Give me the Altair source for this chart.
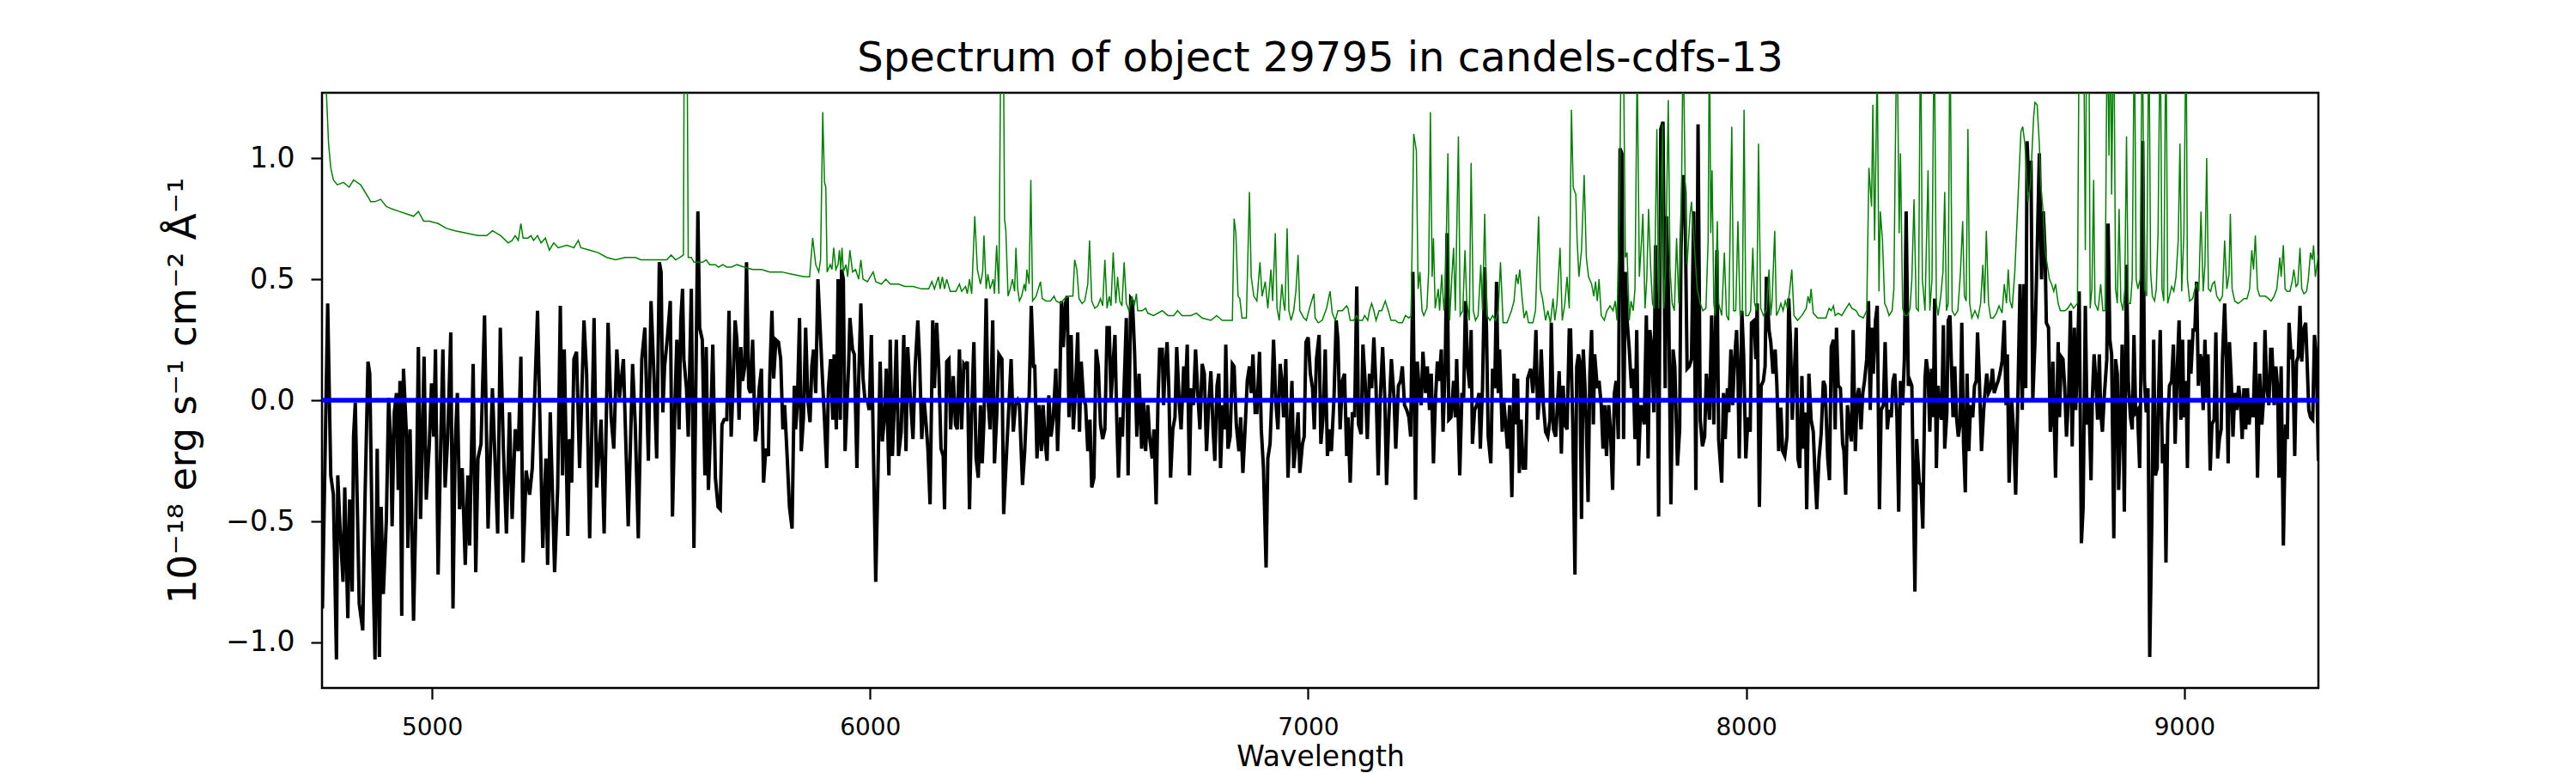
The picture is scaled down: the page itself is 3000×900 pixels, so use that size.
import altair as alt
import pandas as pd

# (wavelength [A], flux [1e-18 erg/s/cm2/A])
flux_samples = [
(4750,-0.86),(4762,0.40),(4769,-0.31),(4775,-0.39),(4782,-1.07),(4785,-0.31),(4790,-0.52),(4797,-0.75),(4801,-0.36),(4808,-0.90),
(4812,-0.41),(4818,-0.79),(4821,-0.15),(4825,-0.01),(4834,-0.84),(4842,-0.95),(4847,-0.42),(4854,0.16),(4858,0.11),(4863,-0.49),
(4870,-1.07),(4875,-0.20),(4880,-1.06),(4884,-0.44),(4889,-0.80),(4896,-0.49),(4901,0.01),(4906,-0.18),(4909,-0.52),(4914,-0.05),
(4919,0.03),(4923,-0.37),(4927,0.08),(4931,-0.89),(4935,0.13),(4942,-0.15),(4945,-0.61),(4950,-0.12),(4958,-0.91),(4965,-0.31),
(4969,0.22),(4974,-0.49),(4982,0.18),(4987,-0.41),(4994,-0.18),(4999,0.07),(5004,-0.15),(5008,0.21),(5014,-0.72),(5020,-0.18),
(5025,0.21),(5030,-0.36),(5036,-0.15),(5043,0.28),(5048,-0.86),(5053,-0.18),(5058,0.03),(5063,-0.45),(5069,-0.28),(5076,-0.68),
(5082,-0.31),(5086,-0.60),(5094,0.15),(5100,-0.71),(5105,-0.24),(5112,-0.18),(5120,0.35),(5128,-0.53),(5138,0.05),(5143,-0.20),
(5150,-0.55),(5156,0.30),(5163,-0.20),(5170,-0.55),(5177,-0.05),(5183,-0.49),(5190,-0.12),(5197,-0.21),(5203,0.18),(5208,-0.67),
(5215,-0.29),(5223,-0.39),(5229,-0.28),(5241,0.37),(5246,-0.04),(5253,-0.61),(5260,-0.24),(5264,-0.68),(5270,-0.05),(5280,-0.71),
(5287,-0.36),(5293,0.39),(5298,-0.31),(5302,0.21),(5310,-0.56),(5314,-0.16),(5319,-0.34),(5324,0.17),(5330,0.20),(5337,-0.28),
(5347,0.33),(5353,0.11),(5360,-0.57),(5370,0.34),(5376,-0.36),(5386,-0.08),(5393,-0.55),(5402,0.32),(5409,-0.07),(5415,-0.20),
(5422,0.21),(5428,0.01),(5437,0.17),(5448,-0.52),(5458,0.15),(5464,-0.10),(5471,-0.57),(5479,0.17),(5486,0.30),(5494,-0.25),
(5500,0.41),(5507,0.09),(5513,-0.24),(5519,0.57),
(5523,0.53),(5527,-0.05),(5531,0.14),(5538,0.27),(5544,0.41),(5549,-0.48),(5555,0.01),(5559,0.25),(5564,-0.12),(5568,0.33),
(5572,0.46),(5575,0.17),(5581,0.05),(5585,-0.15),(5592,0.46),(5598,-0.61),(5603,0.17),(5607,0.78),(5611,0.30),(5617,0.25),
(5623,-0.31),(5626,0.22),(5631,-0.37),(5636,-0.12),(5641,0.23),(5647,-0.32),(5653,-0.44),(5658,-0.45),(5662,-0.10),(5667,-0.08),
(5673,-0.08),(5678,0.37),(5683,-0.15),(5687,0.05),(5692,0.33),(5696,0.25),(5701,-0.08),(5705,0.22),(5709,0.08),(5714,0.14),
(5718,0.57),(5723,0.05),(5727,0.03),(5732,0.25),(5738,-0.17),(5742,-0.12),(5747,0.05),(5752,0.13),(5757,-0.34),(5762,-0.20),
(5768,-0.23),(5771,0.09),(5776,0.37),(5780,0.09),(5785,0.25),(5791,0.24),(5796,0.17),(5801,-0.12),(5805,-0.02),(5811,-0.24),
(5816,-0.44),(5822,-0.53),(5827,0.06),(5830,-0.12),(5834,-0.02),(5839,0.34),(5843,-0.21),(5848,-0.07),(5853,0.30),(5858,0.00),
(5863,-0.09),(5867,0.14),(5871,0.21),(5876,0.03),(5881,0.50),(5886,0.30),(5890,0.14),(5896,-0.08),(5901,-0.28),(5905,0.05),
(5910,0.17),(5915,-0.08),(5918,0.19),(5923,-0.12),(5927,0.50),(5932,-0.08),(5935,0.54),(5939,0.50),(5943,-0.21),(5948,0.01),
(5951,0.14),(5954,0.34),(5960,0.21),(5964,0.19),(5970,-0.28),(5974,0.08),(5979,0.40),(5984,0.09),(5988,0.01),(5994,0.00),
(5998,-0.04),(6003,0.27),(6008,-0.24),(6013,-0.75),(6018,-0.31),(6023,0.16),(6028,-0.17),(6033,-0.07),(6037,0.13),(6043,-0.31),
(6046,0.25),(6051,-0.23),(6056,0.01),(6060,0.25),(6065,-0.23),(6071,-0.13),(6077,0.27),(6082,-0.21),(6086,0.22),(6092,0.01),
(6098,-0.16),(6103,0.14),(6109,0.33),(6113,0.17),(6118,-0.16),(6123,0.01),(6128,-0.10),(6132,-0.20),(6137,-0.43),(6143,0.33),
(6147,0.05),(6152,0.32),(6157,0.13),(6162,-0.20),(6167,-0.23),(6170,-0.45),(6175,0.16),(6180,0.17),(6184,-0.12),(6190,0.10),
(6195,-0.10),(6199,-0.12),(6204,0.21),(6209,-0.12),(6214,0.15),(6218,0.14),(6222,0.16),(6227,-0.45),(6232,-0.04),(6237,0.24),
(6242,-0.24),(6247,-0.32),(6252,-0.02),(6256,-0.26),(6260,-0.08),(6265,0.42),(6269,0.01),(6274,-0.12),(6280,0.33),(6284,-0.26),
(6289,-0.07),(6294,0.19),(6301,0.17),(6305,-0.47),
(6312,-0.20),(6317,-0.02),(6322,0.17),(6327,-0.13),(6332,-0.02),(6337,0.00),(6341,-0.02),(6348,-0.35),(6353,-0.21),(6358,0.00),
(6363,0.01),(6368,0.39),(6373,0.14),(6376,0.14),(6381,-0.24),(6386,-0.02),(6391,-0.21),(6395,-0.02),(6400,-0.18),(6404,-0.25),
(6408,0.02),(6413,-0.15),(6418,-0.08),(6424,0.13),(6428,-0.21),(6433,0.05),(6437,0.41),(6441,0.22),(6446,0.40),(6450,0.43),
(6454,-0.07),(6459,0.27),(6464,-0.12),(6469,0.05),(6474,0.28),(6478,-0.13),(6482,0.16),(6487,0.01),(6492,-0.02),(6497,-0.21),
(6502,-0.08),(6506,-0.36),(6511,-0.32),(6516,0.21),(6521,0.14),(6526,-0.10),(6531,-0.16),(6536,-0.12),(6541,0.30),(6546,0.30),
(6550,0.00),(6556,0.19),(6559,0.27),(6563,-0.07),(6567,-0.32),(6572,-0.07),(6576,-0.15),(6582,0.17),(6585,0.34),(6589,-0.31),
(6595,0.42),(6599,0.41),(6604,0.19),(6609,-0.15),(6614,0.11),(6620,-0.20),(6624,0.00),(6629,-0.21),(6634,-0.02),(6638,-0.15),
(6644,-0.24),(6648,-0.12),(6653,-0.43),(6657,-0.02),(6661,0.21),(6667,0.21),(6670,-0.02),(6673,0.11),(6678,0.24),(6682,0.05),
(6686,-0.32),(6691,-0.12),(6696,-0.07),(6700,0.22),(6706,-0.02),(6710,-0.12),(6716,0.14),(6719,0.00),(6724,0.23),(6729,-0.31),
(6733,0.05),(6738,-0.02),(6743,0.21),(6748,0.03),(6753,-0.12),(6758,0.15),(6763,0.11),(6768,-0.21),(6773,-0.02),(6778,0.12),
(6783,-0.12),(6787,-0.25),(6792,0.06),(6796,0.11),(6800,-0.28),(6805,-0.02),(6809,-0.12),(6812,0.23),(6817,-0.20),(6822,-0.15),
(6827,0.15),(6831,0.14),(6836,-0.10),(6842,-0.21),(6846,-0.07),(6851,-0.30),(6856,-0.12),(6861,0.08),(6866,0.14),(6870,0.03),
(6874,0.19),(6879,-0.05),(6883,-0.05),(6889,0.20),(6893,-0.12),(6898,-0.28),(6904,-0.69),(6908,-0.24),(6913,-0.18),(6917,0.01),
(6921,0.25),(6926,0.00),(6931,-0.12),(6936,0.15),(6940,0.08),(6944,-0.07),(6949,0.17),(6954,-0.32),(6959,-0.10),(6963,0.08),
(6967,-0.28),(6972,-0.18),(6977,-0.05),(6981,-0.30),(6987,-0.18),(6991,-0.15),(6995,0.24),(7000,0.26),(7005,0.11),(7010,0.05),
(7014,-0.12),(7019,0.17),(7025,0.27),(7029,-0.18),(7034,-0.07),(7039,0.21),(7044,-0.23),(7049,-0.12),(7053,-0.21),(7059,0.01),
(7064,0.33),(7068,0.25),(7073,-0.12),(7078,0.08),(7083,0.11),(7088,-0.23),
(7091,-0.07),(7096,-0.34),(7101,-0.05),(7106,-0.07),(7111,0.47),(7115,-0.10),(7121,-0.14),(7125,0.23),(7130,0.08),(7135,-0.16),
(7140,0.11),(7145,0.05),(7150,0.26),(7155,0.05),(7160,-0.31),(7164,-0.02),(7170,0.22),(7175,0.01),(7179,-0.35),(7184,-0.08),
(7190,0.17),(7196,0.01),(7200,-0.20),(7206,0.06),(7211,0.08),(7215,0.14),(7220,-0.02),(7225,-0.04),(7230,-0.07),(7234,-0.15),
(7239,0.53),(7245,-0.41),(7249,0.16),(7253,0.06),(7258,-0.02),(7262,0.20),(7268,0.03),(7272,0.14),(7277,-0.04),(7281,0.11),
(7286,-0.26),(7290,-0.02),(7295,0.16),(7299,0.08),(7304,0.21),(7308,-0.13),(7313,0.16),(7317,0.69),(7321,-0.08),(7326,-0.07),
(7332,0.08),(7336,-0.07),(7339,0.17),(7346,-0.31),(7351,0.03),(7355,0.01),(7359,0.41),(7364,0.14),(7369,0.05),(7372,0.29),
(7375,-0.18),(7380,-0.04),(7385,-0.02),(7390,0.03),(7393,-0.20),(7398,0.05),(7403,0.55),(7407,0.30),(7411,-0.15),(7417,-0.26),
(7421,0.13),(7426,0.05),(7430,0.49),(7434,0.03),(7437,0.21),(7443,-0.13),(7446,0.01),(7451,-0.10),(7455,-0.20),(7460,-0.02),
(7465,-0.40),(7470,0.11),(7475,-0.10),(7478,0.09),(7482,-0.30),(7486,-0.08),(7491,-0.28),(7496,-0.28),(7501,0.09),(7508,0.13),
(7513,0.03),(7517,0.14),(7520,0.29),(7524,-0.08),(7529,0.03),(7532,0.21),(7537,-0.02),(7542,-0.13),(7547,-0.15),(7552,-0.08),
(7555,0.32),(7560,-0.12),(7565,-0.15),(7569,-0.02),(7573,0.12),(7578,-0.22),(7582,0.06),(7586,-0.10),(7591,-0.12),(7596,0.29),
(7599,0.29),(7604,-0.10),(7609,-0.72),(7613,0.14),(7617,0.19),(7620,0.16),(7624,-0.49),(7628,0.21),(7632,0.05),(7635,-0.10),
(7639,-0.42),(7643,0.11),(7647,0.29),(7651,-0.10),(7654,0.19),(7660,0.05),(7664,0.08),(7669,-0.02),(7673,-0.20),(7677,-0.02),
(7681,-0.23),(7686,-0.02),(7690,-0.12),(7695,-0.37),(7699,0.03),(7703,0.08),(7708,-0.16),(7712,1.04),(7716,1.02),(7720,-0.16),
(7724,0.53),(7728,0.33),(7733,0.21),(7738,0.05),(7742,0.13),(7746,-0.16),(7750,0.29),(7754,-0.27),(7759,-0.02),(7763,-0.05),
(7767,-0.10),(7772,0.35),(7776,-0.24),(7780,0.29),(7785,0.21),(7789,-0.05),(7793,0.64),(7797,0.17),(7800,-0.48),(7805,1.12),
(7810,1.15),(7815,0.05),(7818,0.76),(7823,0.40),(7828,-0.43),(7833,0.21),(7837,0.14),(7843,-0.27),(7848,-0.12),(7851,0.62),
(7856,0.93),(7860,0.86),(7865,0.13),(7870,0.14),
(7875,0.17),(7880,0.78),(7885,-0.37),(7890,1.14),(7895,-0.08),(7900,-0.19),(7905,-0.15),(7909,0.11),(7913,0.01),(7916,-0.08),
(7921,0.35),(7926,-0.10),(7933,0.62),(7937,-0.16),(7944,-0.34),(7948,0.03),(7952,-0.16),(7957,0.05),(7960,-0.05),(7965,0.21),
(7969,-0.02),(7973,0.16),(7978,0.29),(7981,0.11),(7984,-0.24),(7990,0.37),(7994,0.19),(7999,-0.24),(8004,-0.07),(8009,-0.13),
(8012,0.32),(8018,0.33),(8022,0.17),(8025,0.40),(8030,-0.44),(8034,0.06),(8039,0.08),(8043,0.14),(8046,0.51),(8052,0.29),
(8056,0.24),(8061,0.11),(8066,0.21),(8070,0.06),(8074,-0.21),(8079,-0.03),(8083,-0.21),(8088,-0.23),(8093,-0.15),(8097,0.42),
(8101,0.25),(8105,-0.08),(8109,0.08),(8114,0.30),(8118,-0.24),(8122,-0.28),(8127,0.10),(8131,-0.20),(8135,-0.05),(8138,-0.45),
(8143,0.11),(8148,-0.08),(8153,-0.13),(8157,-0.31),(8161,-0.45),(8166,-0.24),(8171,-0.14),(8176,0.08),(8180,0.06),(8186,-0.24),
(8190,-0.33),(8194,0.22),(8199,0.25),(8203,-0.12),(8206,0.30),(8210,0.06),(8215,0.05),(8220,-0.18),(8223,-0.21),(8227,-0.39),
(8231,-0.02),(8236,-0.12),(8240,-0.17),(8244,0.29),(8249,-0.21),(8253,0.01),(8257,0.05),(8262,-0.12),(8266,0.03),(8270,0.08),
(8275,0.17),(8279,0.41),(8283,-0.04),(8287,0.30),(8290,0.11),(8295,0.33),(8299,0.39),(8304,-0.45),(8308,-0.04),(8313,-0.02),
(8317,0.24),(8322,-0.12),(8326,-0.04),(8331,-0.07),(8335,0.08),(8339,0.11),(8344,-0.07),(8348,-0.46),(8352,0.08),(8357,-0.02),
(8361,0.17),(8365,0.78),(8370,0.06),(8374,0.08),(8378,0.06),(8385,-0.79),(8389,-0.16),(8395,-0.34),(8399,-0.35),(8403,-0.53),
(8408,0.09),(8411,0.17),(8415,0.11),(8419,-0.13),(8423,0.13),(8427,-0.07),(8430,0.42),(8434,-0.28),(8438,0.06),(8442,-0.05),
(8446,-0.08),(8450,0.31),(8453,-0.20),(8458,-0.05),(8461,0.33),(8465,0.35),(8468,0.17),(8472,-0.07),(8476,0.14),(8480,-0.07),
(8484,-0.15),(8488,-0.10),(8492,0.32),(8496,-0.18),(8500,-0.38),(8504,0.11),(8508,-0.21),(8512,-0.02),(8517,-0.07),(8521,0.06),
(8525,0.08),(8528,0.28),(8532,0.09),(8537,-0.21),(8542,-0.04),(8545,0.03),(8549,0.11),(8553,0.03),(8558,0.05),(8562,0.13),
(8566,0.03),(8571,0.06),(8575,0.08),(8579,0.11),(8584,0.16),(8589,0.33),(8593,-0.02),(8596,0.19),(8600,-0.34),(8606,0.00),
(8610,-0.12),(8615,-0.39),(8620,0.01),(8625,0.48),(8630,-0.04),(8634,0.48),(8638,0.05),(8641,1.07),(8646,0.86),(8650,0.99),
(8654,0.00),
(8659,0.24),(8664,0.61),(8669,1.02),(8674,0.50),(8678,0.78),(8682,0.62),(8685,0.32),(8690,0.30),(8694,-0.13),(8697,-0.07),
(8700,0.16),(8706,-0.32),(8712,0.24),(8715,-0.07),(8719,0.18),(8723,0.17),(8727,0.05),(8731,-0.15),(8736,0.03),(8740,0.37),
(8744,-0.19),(8749,0.30),(8752,-0.04),(8756,0.17),(8760,0.45),(8765,-0.59),(8769,-0.44),(8774,0.39),(8778,-0.10),(8782,0.01),
(8787,-0.33),(8790,0.01),(8794,0.19),(8798,0.08),(8802,-0.08),(8806,0.19),(8809,-0.05),(8813,-0.13),(8817,0.01),(8823,0.17),
(8826,0.73),(8830,0.25),(8834,0.19),(8839,-0.57),(8843,0.17),(8847,0.11),(8850,-0.37),(8854,-0.12),(8858,0.23),(8863,-0.46),
(8868,0.56),(8872,0.08),(8877,-0.07),(8881,-0.12),(8885,0.27),(8889,-0.05),(8893,-0.04),(8898,-0.28),(8901,0.14),(8905,1.07),
(8909,0.08),(8913,-0.05),(8917,0.05),(8921,-1.06),(8926,-0.47),(8930,0.25),(8934,-0.31),(8938,-0.28),(8941,0.01),(8945,0.29),
(8950,-0.26),(8955,-0.18),(8958,-0.67),(8962,-0.10),(8966,0.06),(8971,0.08),(8975,0.23),(8979,-0.18),(8984,0.14),(8988,0.33),
(8992,-0.08),(8996,0.25),(8999,-0.07),(9004,0.08),(9007,-0.28),(9011,0.25),(9015,0.11),(9020,0.29),(9024,0.29),(9028,0.49),
(9032,0.06),(9036,0.19),(9039,0.17),(9043,-0.04),(9047,0.25),(9051,0.01),(9054,0.19),(9059,-0.29),(9063,-0.10),(9068,-0.08),
(9072,0.28),(9076,-0.24),(9080,-0.16),(9084,-0.12),(9087,0.17),(9092,0.40),(9096,0.16),(9100,-0.26),(9103,0.24),(9107,0.09),
(9111,-0.15),(9115,0.03),(9120,-0.04),(9124,0.06),(9128,0.00),(9132,-0.16),(9136,0.05),(9140,-0.12),(9144,0.05),(9148,-0.10),
(9152,0.01),(9157,-0.07),(9162,0.24),(9167,-0.32),(9172,0.11),(9177,-0.10),(9181,0.01),(9184,0.29),(9188,0.06),(9193,-0.02),
(9197,0.21),(9200,0.21),(9205,-0.02),(9209,0.14),(9213,0.05),(9216,-0.32),(9221,0.14),(9226,-0.60),(9231,-0.10),(9235,-0.16),
(9239,0.32),(9244,0.17),(9247,0.21),(9252,-0.23),(9256,0.16),(9260,0.18),(9264,0.39),(9268,0.16),(9272,0.29),(9277,0.32),
(9280,0.17),(9284,-0.04),(9288,-0.07),(9293,-0.08),(9297,0.27),(9301,0.19),(9306,-0.25),
]

# (wavelength, noise / sky level); values above the frame are clipped
sky_samples = [
(4749,1.60),(4755,1.45),(4759,1.27),(4764,1.06),(4769,0.96),(4775,0.91),(4784,0.89),(4798,0.90),(4811,0.88),(4821,0.91),
(4837,0.89),(4854,0.84),(4860,0.82),(4870,0.82),(4883,0.83),(4896,0.80),(4909,0.79),(4925,0.78),(4942,0.77),(4958,0.76),
(4969,0.78),(4981,0.74),(4994,0.74),(5014,0.73),(5033,0.71),(5053,0.70),(5079,0.69),(5105,0.68),(5125,0.68),(5138,0.70),
(5157,0.68),(5174,0.65),(5183,0.66),(5190,0.68),(5197,0.66),(5203,0.73),(5208,0.67),(5219,0.67),(5226,0.68),(5232,0.66),
(5241,0.68),(5249,0.65),(5259,0.67),(5268,0.62),(5278,0.65),(5288,0.63),(5308,0.64),(5324,0.63),(5334,0.66),(5340,0.63),
(5360,0.62),(5379,0.61),(5399,0.59),(5419,0.58),(5441,0.59),(5464,0.59),(5477,0.58),(5497,0.58),(5523,0.58),
(5536,0.58),(5546,0.60),(5556,0.58),(5566,0.59),(5574,0.60),(5576,1.60),(5582,1.60),(5585,0.59),(5592,0.59),(5598,0.57),
(5608,0.57),(5618,0.57),(5626,0.58),(5634,0.56),(5647,0.56),(5654,0.55),(5664,0.56),(5673,0.55),(5683,0.55),(5696,0.56),
(5713,0.55),(5732,0.54),(5752,0.54),(5771,0.53),(5798,0.53),(5824,0.52),(5850,0.51),(5862,0.51),(5869,0.67),(5876,0.56),
(5883,0.53),(5887,0.58),(5892,1.19),(5896,0.90),(5899,0.88),(5902,0.53),(5909,0.56),(5913,0.54),(5917,0.63),(5922,0.54),
(5927,0.56),(5930,0.62),(5933,0.54),(5936,0.63),(5939,0.53),(5945,0.56),(5949,0.51),(5954,0.62),(5960,0.53),(5967,0.54),
(5974,0.50),(5979,0.58),(5984,0.50),(5994,0.49),(6007,0.53),(6013,0.49),(6026,0.48),(6036,0.50),(6046,0.48),(6065,0.48),
(6079,0.47),(6098,0.47),(6118,0.46),(6134,0.46),(6141,0.49),(6147,0.46),(6156,0.51),(6160,0.46),(6165,0.51),(6170,0.46),
(6175,0.50),(6183,0.45),(6196,0.45),(6204,0.48),(6209,0.45),(6218,0.47),(6222,0.44),(6227,0.50),(6232,0.44),(6239,0.76),
(6245,0.54),(6252,0.48),(6257,0.53),(6260,0.68),(6265,0.46),(6269,0.52),(6274,0.46),(6281,0.50),(6284,0.44),(6289,0.64),
(6294,0.44),(6299,1.60),(6304,1.60),
(6307,0.75),(6310,0.70),(6315,0.43),(6320,0.46),(6325,0.50),(6330,0.45),(6333,0.63),(6337,0.46),(6341,0.41),(6346,0.43),
(6352,0.48),(6355,0.45),(6358,0.54),(6363,0.48),(6367,0.91),(6371,0.41),(6379,0.43),(6384,0.46),(6389,0.49),(6393,0.42),
(6402,0.41),(6412,0.41),(6420,0.43),(6425,0.41),(6435,0.40),(6444,0.42),(6454,0.43),(6463,0.43),(6467,0.58),(6472,0.54),
(6477,0.42),(6484,0.40),(6490,0.41),(6497,0.48),(6501,0.66),(6506,0.41),(6513,0.38),(6520,0.39),(6526,0.42),(6531,0.39),
(6536,0.58),(6541,0.38),(6546,0.43),(6550,0.39),(6555,0.61),(6561,0.40),(6565,0.51),(6570,0.41),(6575,0.39),(6580,0.57),
(6585,0.40),(6591,0.37),(6598,0.43),(6603,0.39),(6608,0.44),(6611,0.37),(6621,0.37),(6629,0.38),(6634,0.36),(6647,0.35),
(6667,0.37),(6680,0.35),(6693,0.35),(6702,0.37),(6712,0.35),(6732,0.35),(6745,0.36),(6758,0.34),(6778,0.33),(6791,0.35),
(6804,0.33),(6827,0.33),(6831,0.75),(6835,0.69),(6840,0.43),(6844,0.42),(6849,0.34),(6859,0.34),(6866,0.86),(6870,0.51),
(6876,0.43),(6883,0.41),(6890,0.57),(6895,0.43),(6902,0.49),(6908,0.38),(6915,0.54),(6919,0.41),(6925,0.69),(6929,0.38),
(6934,0.33),(6940,0.48),(6944,0.40),(6947,0.37),(6952,0.71),(6956,0.37),(6961,0.33),(6967,0.37),(6972,0.45),(6977,0.60),
(6981,0.37),(6990,0.34),(6996,0.33),(7003,0.38),(7008,0.41),(7013,0.44),(7016,0.34),(7023,0.32),(7032,0.33),(7042,0.38),
(7050,0.45),(7055,0.36),(7062,0.33),(7068,0.37),(7078,0.37),(7088,0.39),
(7091,0.38),(7096,0.33),(7104,0.33),(7111,0.35),(7116,0.33),(7124,0.33),(7129,0.35),(7136,0.33),(7140,0.37),(7145,0.40),
(7150,0.37),(7155,0.33),(7162,0.37),(7168,0.37),(7176,0.41),(7183,0.37),(7189,0.33),(7199,0.33),(7206,0.32),(7215,0.32),
(7222,0.35),(7230,0.34),(7235,0.35),(7241,1.10),(7247,1.03),(7251,0.46),(7255,0.53),(7260,0.37),(7264,0.35),(7271,0.38),
(7275,0.53),(7279,1.19),(7283,0.51),(7286,0.67),(7290,0.38),(7297,0.46),(7300,0.37),(7305,0.52),(7310,0.37),(7313,0.45),
(7319,1.02),(7323,0.33),(7328,0.51),(7332,0.63),(7336,0.37),(7343,1.09),(7347,0.35),(7353,0.37),(7358,0.62),(7362,0.41),
(7368,0.33),(7372,0.98),(7377,0.37),(7382,0.33),(7388,0.35),(7394,0.56),(7398,0.37),(7403,0.77),(7408,0.35),(7415,0.33),
(7421,0.35),(7428,0.33),(7434,0.37),(7439,0.57),(7445,0.32),(7454,0.32),(7464,0.37),(7470,0.41),(7475,0.52),(7479,0.48),
(7483,0.54),(7488,0.43),(7493,0.34),(7498,0.37),(7503,0.32),(7513,0.32),(7519,0.37),(7526,0.76),(7530,0.46),(7535,0.42),
(7542,0.33),(7547,0.37),(7553,0.32),(7559,0.42),(7563,0.33),(7568,0.40),(7575,0.63),(7580,0.33),(7586,0.40),(7591,0.51),
(7596,0.38),(7601,1.20),(7605,0.88),(7611,0.85),(7614,0.66),(7618,0.51),(7624,0.62),(7630,0.93),(7635,0.59),(7640,0.51),
(7647,0.48),(7652,0.43),(7656,0.49),(7660,0.41),(7664,0.50),(7669,0.35),(7676,0.33),(7682,0.37),(7689,0.39),(7696,0.37),
(7701,0.41),(7705,0.33),(7711,0.82),(7715,1.60),(7720,1.40),(7724,0.59),(7728,0.61),(7733,0.33),(7737,0.41),(7742,0.37),
(7746,0.46),(7751,1.40),(7756,0.51),(7761,0.66),(7764,0.77),(7769,0.38),(7773,0.50),(7777,0.79),(7782,0.54),(7786,0.40),
(7790,0.38),(7796,1.12),(7800,0.38),(7803,0.58),(7809,1.14),(7812,0.38),(7816,0.54),(7822,1.24),(7826,0.54),(7831,0.40),
(7836,0.37),(7841,0.67),(7846,0.40),(7851,0.66),(7856,1.50),(7861,0.84),(7865,0.56),(7872,0.77),
(7875,0.82),(7888,0.46),(7895,0.40),(7901,0.37),(7908,0.38),(7913,0.66),(7916,1.60),(7919,0.69),(7922,0.95),(7926,0.40),
(7929,0.35),(7934,0.74),(7937,0.40),(7944,0.35),(7950,0.61),(7955,0.35),(7960,0.33),(7967,1.13),(7971,0.37),(7976,0.37),
(7981,0.74),(7986,0.35),(7991,0.37),(7995,1.20),(7999,0.35),(8005,0.35),(8010,0.37),(8015,0.63),(8019,0.40),(8024,0.37),
(8028,1.06),(8033,0.38),(8039,0.35),(8046,0.37),(8052,0.54),(8056,0.35),(8059,0.41),(8065,0.70),(8069,0.35),(8074,0.37),
(8079,0.40),(8084,0.37),(8089,0.41),(8094,0.38),(8099,0.45),(8104,0.54),(8109,0.35),(8117,0.33),(8127,0.35),(8137,0.38),
(8141,0.43),(8145,0.40),(8148,0.46),(8153,0.36),(8163,0.34),(8172,0.34),(8182,0.34),(8189,0.38),(8194,0.37),(8199,0.39),
(8203,0.35),(8210,0.36),(8218,0.35),(8228,0.38),(8235,0.40),(8241,0.38),(8251,0.37),(8257,0.35),(8267,0.34),(8275,0.37),
(8280,0.96),(8286,0.80),(8289,1.22),(8293,0.66),(8299,1.40),(8303,0.45),(8306,0.78),(8311,0.66),(8316,0.40),(8321,0.38),
(8326,0.35),(8333,0.37),(8337,0.46),(8340,0.98),(8344,1.60),(8349,0.69),(8352,1.02),(8357,0.38),(8362,0.35),(8368,0.35),
(8374,0.38),(8378,0.50),(8383,0.83),(8388,0.38),(8393,0.37),(8398,1.60),(8402,0.50),(8408,0.37),(8411,0.62),(8415,0.95),
(8419,0.37),(8424,0.50),(8429,1.60),(8434,0.40),(8438,0.35),(8444,0.43),(8449,0.53),(8453,0.86),(8457,0.37),(8461,0.40),
(8465,1.60),(8470,0.37),(8476,0.35),(8483,0.37),(8489,0.53),(8494,0.74),(8498,0.43),(8502,0.41),(8506,1.12),(8510,0.40),
(8515,0.34),(8522,0.37),(8529,0.34),(8535,0.40),(8540,0.56),(8544,0.40),(8548,0.70),(8553,0.40),(8558,0.34),(8564,0.34),
(8571,0.36),(8577,0.39),(8584,0.36),(8589,0.48),(8594,0.40),(8598,0.54),(8602,0.41),(8607,0.38),(8613,0.53),(8620,0.82),
(8627,1.11),(8631,1.13),(8636,1.06),(8643,0.82),(8649,0.90),(8656,1.17),
(8659,1.23),(8664,1.22),(8669,1.06),(8672,0.90),(8678,0.77),(8682,0.62),(8687,0.56),(8692,0.50),(8697,0.48),(8702,0.45),
(8706,0.48),(8712,0.40),(8717,0.37),(8721,0.37),(8728,0.37),(8734,0.38),(8741,0.40),(8747,0.38),(8756,0.40),(8760,1.60),
(8765,1.40),(8770,1.60),(8774,0.62),(8777,1.60),(8782,1.60),(8785,0.38),(8789,0.46),(8793,0.91),(8796,0.40),(8803,0.37),
(8809,0.48),(8814,0.37),(8819,0.37),(8824,1.60),(8828,1.01),(8832,1.60),(8834,0.85),(8839,1.60),(8843,0.46),(8847,0.40),
(8851,0.79),(8855,0.41),(8860,0.37),(8864,0.46),(8868,1.09),(8872,0.40),(8877,0.40),(8881,0.50),(8886,1.60),(8890,0.50),
(8894,0.46),(8899,0.50),(8904,1.60),(8909,0.46),(8914,0.43),(8919,1.60),(8923,0.53),(8927,0.43),(8932,0.41),(8936,0.46),
(8940,0.69),(8945,1.60),(8949,0.46),(8953,0.41),(8958,1.60),(8962,0.40),(8966,0.43),(8971,0.47),(8976,0.45),(8981,0.51),
(8986,0.66),(8990,1.06),(8994,0.45),(8999,0.69),(9004,1.60),(9007,0.50),(9012,0.41),(9019,0.42),(9024,0.46),(9028,0.48),
(9033,0.45),(9038,0.78),(9043,0.45),(9047,0.56),(9051,1.00),(9055,0.46),(9060,0.45),(9064,0.48),(9069,0.49),(9074,0.43),
(9081,0.41),(9087,0.43),(9092,0.66),(9097,0.46),(9102,0.52),(9105,0.77),(9109,0.46),(9115,0.41),(9123,0.40),(9130,0.41),
(9136,0.42),(9143,0.42),(9149,0.46),(9154,0.62),(9158,0.54),(9162,0.68),(9167,0.46),(9172,0.43),(9179,0.43),(9185,0.43),
(9192,0.42),(9198,0.41),(9205,0.43),(9211,0.46),(9218,0.59),(9221,0.51),(9226,0.64),(9230,0.46),(9235,0.45),(9241,0.45),
(9246,0.49),(9250,0.54),(9255,0.47),(9259,0.48),(9264,0.63),(9268,0.46),(9273,0.44),(9279,0.45),(9283,0.50),(9288,0.61),
(9292,0.58),(9295,0.64),(9299,0.51),(9306,0.60),
]

zero_level = [0.0]
x_ticks = [5000, 6000, 7000, 8000, 9000]
y_ticks = [-1.0, -0.5, 0.0, 0.5, 1.0]
x_range = [4749, 9306]
y_range = [-1.188, 1.27]
title_text = ["Spectrum of object 29795 in candels-cdfs-13"]
x_title = "Wavelength"
y_title = "10\u207b\u00b9\u2078 erg s\u207b\u00b9 cm\u207b\u00b2 \u00c5\u207b\u00b9"

df_flux = pd.DataFrame(flux_samples, columns=["wave", "value"])
df_sky = pd.DataFrame(sky_samples, columns=["wave", "value"])
df_zero = pd.DataFrame({"value": zero_level})
df_title = pd.DataFrame({"text": title_text})

FONT = "DejaVu Sans"
W, H = 2325, 693
xs = alt.Scale(domain=x_range, nice=False, zero=False)
ys = alt.Scale(domain=y_range, nice=False, zero=False)

x_axis = alt.Axis(
    values=x_ticks, format="d", title=x_title, grid=False, domain=False,
    tickColor="black", tickWidth=2.2, tickSize=13,
    labelFont=FONT, labelFontSize=28, labelColor="black", labelPadding=41,
    labelBaseline="alphabetic", labelFlush=False, labelOverlap=False,
    titleFont=FONT, titleFontSize=33, titleFontWeight="normal", titleColor="black",
    titleBaseline="alphabetic", titleY=90,
)
y_axis = alt.Axis(
    values=y_ticks, format=".1f", title=y_title, grid=False, domain=False,
    tickColor="black", tickWidth=2.2, tickSize=13,
    labelFont=FONT, labelFontSize=33, labelColor="black", labelPadding=19,
    labelFlush=False, labelOverlap=False,
    titleFont=FONT, titleFontSize=45, titleFontWeight="normal", titleColor="black",
    titleAngle=270, titleAlign="center", titleBaseline="alphabetic",
    titleX=-148, titleY=H / 2,
)

flux_line = alt.Chart(df_flux).mark_line(color="black", strokeWidth=4, clip=True).encode(
    x=alt.X("wave:Q", scale=xs, axis=x_axis),
    y=alt.Y("value:Q", scale=ys, axis=y_axis),
)
zero_line = alt.Chart(df_zero).mark_rule(color="#0000ff", strokeWidth=5.5).encode(
    y=alt.Y("value:Q", scale=ys),
)
sky_line = alt.Chart(df_sky).mark_line(color="#008000", strokeWidth=1.5, clip=True).encode(
    x=alt.X("wave:Q", scale=xs),
    y=alt.Y("value:Q", scale=ys),
)
title_mark = alt.Chart(df_title).mark_text(
    font=FONT, fontSize=48, color="black", align="center", baseline="alphabetic",
).encode(
    text="text:N",
    x=alt.value(W / 2),
    y=alt.value(-25),
)

chart = (
    alt.layer(flux_line, zero_line, sky_line, title_mark)
    .properties(
        width=W,
        height=H,
        padding={"left": 367, "top": 100, "right": 292, "bottom": 100},
        autosize=alt.AutoSizeParams(type="none"),
        background="white",
    )
    .configure_view(stroke="black", strokeWidth=2.5)
)

chart.save("out.html", embed_options={"renderer": "svg", "actions": False})
